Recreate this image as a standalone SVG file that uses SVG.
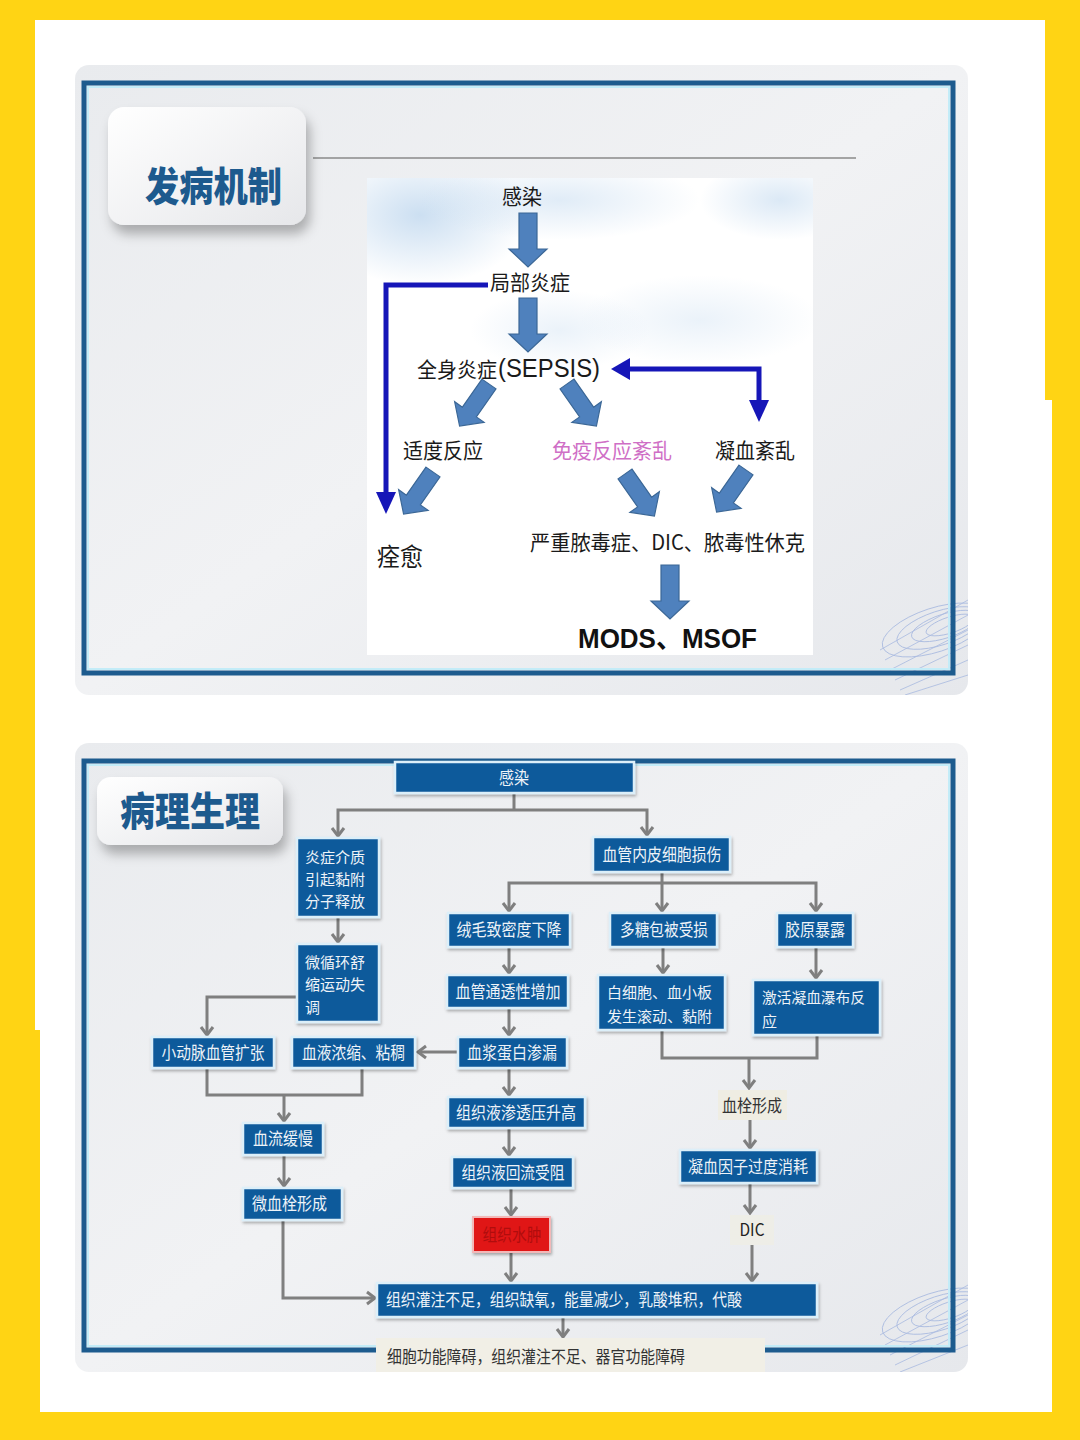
<svg xmlns="http://www.w3.org/2000/svg" width="1080" height="1440" viewBox="0 0 1080 1440">
<defs>
<style>
.box{fill:#105A9B;stroke:#DCEFF9;stroke-width:2.5;filter:url(#sh)}
.bt{font-family:"Noto Sans CJK SC","Noto Sans CJK JP",sans-serif;font-size:17px;fill:#EEF3F8}
.bt2{font-family:"Noto Sans CJK SC","Noto Sans CJK JP",sans-serif;font-size:15px;fill:#EEF3F8}
.lt{font-family:"Noto Sans CJK SC","Noto Sans CJK JP",sans-serif;font-size:17px;fill:#333333}
.con{fill:none;stroke:#7F7F7F;stroke-width:3}
.arr{marker-end:url(#chev)}
.fat{fill:#4F81BD;stroke:#3B6796;stroke-width:1.2}
.blu{fill:none;stroke:#1616B8;stroke-width:5}
.bh{fill:#1616B8}
.tt{font-family:"Noto Sans CJK SC","Noto Sans CJK JP",sans-serif;font-size:21px;fill:#1a1a1a}
.title{font-family:"Noto Sans CJK SC","Noto Sans CJK JP",sans-serif;font-size:40px;font-weight:900;fill:#1D5A8E}
.frame{fill:none;stroke:#1D5B8E;stroke-width:5}
.inner{fill:none;stroke:#C3ECF8;stroke-width:2}
.deco{fill:none;stroke:#8EA6DA;stroke-width:0.8;opacity:0.7}
</style>
<filter id="sh" x="-10%" y="-20%" width="130%" height="160%">
<feDropShadow dx="1" dy="2" stdDeviation="1.5" flood-color="#000" flood-opacity="0.3"/>
</filter>
<filter id="bsh" x="-20%" y="-30%" width="150%" height="180%">
<feDropShadow dx="4" dy="9" stdDeviation="6" flood-color="#000" flood-opacity="0.28"/>
</filter>
<linearGradient id="badge" x1="0" y1="0" x2="1" y2="1">
<stop offset="0" stop-color="#FFFFFF"/>
<stop offset="1" stop-color="#E6E7EA"/>
</linearGradient>
<linearGradient id="pg" x1="0" y1="0" x2="1" y2="1">
<stop offset="0" stop-color="#E9EBEE"/>
<stop offset="0.5" stop-color="#F1F2F4"/>
<stop offset="1" stop-color="#E6E8EC"/>
</linearGradient>
<radialGradient id="sky1" cx="0.5" cy="0.5" r="0.5">
<stop offset="0" stop-color="#BFD7EE" stop-opacity="0.8"/>
<stop offset="1" stop-color="#BFD7EE" stop-opacity="0"/>
</radialGradient>
<marker id="chev" markerUnits="userSpaceOnUse" markerWidth="14" markerHeight="16" refX="11" refY="8" orient="auto">
<path d="M3,2 L11,8 L3,14" fill="none" stroke="#7F7F7F" stroke-width="3"/>
</marker>
<path id="fa" d="M-9,0 H9 V36 H19 L0,54 L-19,36 H-9 Z"/>
<clipPath id="c1"><rect x="75" y="65" width="893" height="630" rx="14"/></clipPath>
<clipPath id="c2"><rect x="75" y="743" width="893" height="629" rx="14"/></clipPath>
<clipPath id="cimg"><rect x="367" y="178" width="446" height="477"/></clipPath>
</defs>

<!-- background -->
<rect x="0" y="0" width="1080" height="1440" fill="#FFD414"/>
<path d="M35,20 H1045 V400 H1052 V1412 H40 V1030 H35 Z" fill="#FFFFFF"/>

<!-- ===== Top panel ===== -->
<g id="panel-top">
<rect x="75" y="65" width="893" height="630" rx="14" fill="url(#pg)"/>
<g clip-path="url(#c1)">
<g class="deco">
<ellipse cx="935" cy="630" rx="55" ry="22" transform="rotate(-18 935 630)"/>
<ellipse cx="940" cy="628" rx="45" ry="17" transform="rotate(-18 940 628)"/>
<ellipse cx="945" cy="626" rx="35" ry="12" transform="rotate(-18 945 626)"/>
<ellipse cx="950" cy="625" rx="25" ry="8" transform="rotate(-18 950 625)"/>
<path d="M880,650 L968,600 M885,660 L968,615 M890,670 L968,630 M895,680 L968,645 M900,690 L968,660 M905,695 L968,675"/>
</g>
</g>
<rect x="84" y="83" width="869" height="590" class="frame"/>
<rect x="88" y="87" width="861" height="582" class="inner"/>
<line x1="313" y1="158" x2="856" y2="158" stroke="#8A8A8A" stroke-width="1.5"/>
</g>
<g id="title-top">
<rect x="108" y="107" width="198" height="118" rx="16" fill="url(#badge)" filter="url(#bsh)"/>
<text x="145" y="201" class="title" textLength="137" lengthAdjust="spacingAndGlyphs">发病机制</text>
</g>

<!-- image area -->
<g id="chart-bg">
<rect x="367" y="178" width="446" height="477" fill="#FFFFFF"/>
<g clip-path="url(#cimg)">
<ellipse cx="420" cy="215" rx="110" ry="70" fill="url(#sky1)"/>
<ellipse cx="560" cy="200" rx="140" ry="40" fill="url(#sky1)" opacity="0.6"/>
<ellipse cx="780" cy="200" rx="80" ry="40" fill="url(#sky1)" opacity="0.7"/>
<ellipse cx="700" cy="320" rx="120" ry="45" fill="url(#sky1)" opacity="0.4"/>
<ellipse cx="560" cy="330" rx="90" ry="40" fill="url(#sky1)" opacity="0.4"/>
</g>
</g>

<!-- top connectors -->
<g id="top-connectors">
<use href="#fa" class="fat" transform="translate(528,213)"/>
<use href="#fa" class="fat" transform="translate(528,298)"/>
<use href="#fa" class="fat" transform="translate(489,384) rotate(35) scale(0.95)"/>
<use href="#fa" class="fat" transform="translate(567,384) rotate(-35) scale(0.95)"/>
<use href="#fa" class="fat" transform="translate(433,472) rotate(35) scale(0.95)"/>
<use href="#fa" class="fat" transform="translate(625,474) rotate(-35) scale(0.95)"/>
<use href="#fa" class="fat" transform="translate(746,470) rotate(35) scale(0.95)"/>
<use href="#fa" class="fat" transform="translate(670,565)"/>
<path d="M488,285 H386 V495" class="blu"/>
<polygon points="376,492 396,492 386,514" class="bh"/>
<path d="M628,369 H759 V403" class="blu"/>
<polygon points="611,369 630,358 630,380" class="bh"/>
<polygon points="749,400 769,400 759,422" class="bh"/>
</g>

<!-- top nodes -->
<g id="t-infection"><text x="522" y="204" class="tt" text-anchor="middle" textLength="40" lengthAdjust="spacingAndGlyphs">感染</text></g>
<g id="t-local"><text x="530" y="290" class="tt" text-anchor="middle" textLength="80" lengthAdjust="spacingAndGlyphs">局部炎症</text></g>
<g id="t-sepsis">
<text x="417" y="377" class="tt" textLength="80" lengthAdjust="spacingAndGlyphs">全身炎症</text>
<text x="498" y="377" font-family="Liberation Sans, Arial, sans-serif" font-size="26" fill="#1a1a1a" textLength="102" lengthAdjust="spacingAndGlyphs">(SEPSIS)</text>
</g>
<g id="t-moderate"><text x="443" y="458" class="tt" text-anchor="middle" textLength="80" lengthAdjust="spacingAndGlyphs">适度反应</text></g>
<g id="t-immune"><text x="612" y="458" class="tt" style="fill:#CF6FC6" text-anchor="middle" textLength="120" lengthAdjust="spacingAndGlyphs">免疫反应紊乱</text></g>
<g id="t-coag"><text x="755" y="458" class="tt" text-anchor="middle" textLength="80" lengthAdjust="spacingAndGlyphs">凝血紊乱</text></g>
<g id="t-heal"><text x="400" y="566" class="tt" style="font-size:25px" text-anchor="middle" textLength="46" lengthAdjust="spacingAndGlyphs">痊愈</text></g>
<g id="t-severe"><text x="667.5" y="550" class="tt" text-anchor="middle" textLength="275" lengthAdjust="spacingAndGlyphs">严重脓毒症、DIC、脓毒性休克</text></g>
<g id="t-mods"><text x="578" y="648" font-family="Liberation Sans, Arial, 'Noto Sans CJK SC', sans-serif" font-size="27" font-weight="bold" fill="#111" textLength="179" lengthAdjust="spacingAndGlyphs">MODS、MSOF</text></g>

<!-- ===== Bottom panel ===== -->
<g id="panel-bottom">
<rect x="75" y="743" width="893" height="629" rx="14" fill="url(#pg)"/>
<g clip-path="url(#c2)">
<g class="deco">
<ellipse cx="935" cy="1315" rx="55" ry="22" transform="rotate(-18 935 1315)"/>
<ellipse cx="940" cy="1313" rx="45" ry="17" transform="rotate(-18 940 1313)"/>
<ellipse cx="945" cy="1311" rx="35" ry="12" transform="rotate(-18 945 1311)"/>
<ellipse cx="950" cy="1310" rx="25" ry="8" transform="rotate(-18 950 1310)"/>
<path d="M880,1335 L968,1285 M885,1345 L968,1300 M890,1355 L968,1315 M895,1365 L968,1330 M900,1372 L968,1345"/>
</g>
</g>
<rect x="84" y="761" width="869" height="589" class="frame"/>
<rect x="88" y="765" width="861" height="581" class="inner"/>
</g>
<g id="title-bottom">
<rect x="97" y="777" width="186" height="68" rx="14" fill="url(#badge)" filter="url(#bsh)"/>
<text x="120" y="826" class="title" textLength="140" lengthAdjust="spacingAndGlyphs">病理生理</text>
</g>

<!-- bottom connectors -->
<g id="connectors">
<path d="M514,793 V810" class="con"/>
<path d="M514,810 H338 V836" class="con arr"/>
<path d="M514,810 H647 V835" class="con arr"/>
<path d="M338,917 V942" class="con arr"/>
<path d="M297,997 H207 V1035" class="con arr"/>
<path d="M662,872 V883" class="con"/>
<path d="M662,883 V911" class="con arr"/>
<path d="M662,883 H509 V911" class="con arr"/>
<path d="M662,883 H816 V911" class="con arr"/>
<path d="M509,947 V973" class="con arr"/>
<path d="M663,947 V973" class="con arr"/>
<path d="M816,947 V978" class="con arr"/>
<path d="M509,1008 V1035" class="con arr"/>
<path d="M457,1052 H418" class="con arr"/>
<path d="M207,1068 V1095 H362 V1068" class="con"/>
<path d="M284,1095 V1121" class="con arr"/>
<path d="M284,1155 V1186" class="con arr"/>
<path d="M283,1220 V1298 H375" class="con arr"/>
<path d="M509,1068 V1095" class="con arr"/>
<path d="M509,1128 V1155" class="con arr"/>
<path d="M511,1188 V1215" class="con arr"/>
<path d="M511,1252 V1281" class="con arr"/>
<path d="M662,1030 V1058 H817 V1035" class="con"/>
<path d="M749,1058 V1088" class="con arr"/>
<path d="M750,1120 V1148" class="con arr"/>
<path d="M750,1183 V1213" class="con arr"/>
<path d="M752,1245 V1281" class="con arr"/>
<path d="M563,1317 V1337" class="con arr"/>
</g>

<!-- bottom nodes -->
<g id="b-infection"><rect x="395" y="762" width="239" height="31" class="box"/><text x="514" y="784" class="bt" text-anchor="middle" textLength="30" lengthAdjust="spacingAndGlyphs">感染</text></g>
<g id="b-mediator"><rect x="297" y="838" width="82" height="79" class="box"/>
<text x="305" y="863" class="bt2" textLength="60" lengthAdjust="spacingAndGlyphs">炎症介质</text>
<text x="305" y="885" class="bt2" textLength="60" lengthAdjust="spacingAndGlyphs">引起黏附</text>
<text x="305" y="907" class="bt2" textLength="60" lengthAdjust="spacingAndGlyphs">分子释放</text></g>
<g id="b-micro"><rect x="297" y="944" width="82" height="78" class="box"/>
<text x="305" y="968" class="bt2" textLength="60" lengthAdjust="spacingAndGlyphs">微循环舒</text>
<text x="305" y="990" class="bt2" textLength="60" lengthAdjust="spacingAndGlyphs">缩运动失</text>
<text x="305" y="1013" class="bt2" textLength="15" lengthAdjust="spacingAndGlyphs">调</text></g>
<g id="b-arteriole"><rect x="152" y="1037" width="122" height="31" class="box"/><text x="213" y="1059" class="bt" text-anchor="middle" textLength="103" lengthAdjust="spacingAndGlyphs">小动脉血管扩张</text></g>
<g id="b-conc"><rect x="292" y="1037" width="123" height="31" class="box"/><text x="353.5" y="1059" class="bt" text-anchor="middle" textLength="103" lengthAdjust="spacingAndGlyphs">血液浓缩、粘稠</text></g>
<g id="b-leak"><rect x="458" y="1037" width="109" height="31" class="box"/><text x="512" y="1059" class="bt" text-anchor="middle" textLength="90" lengthAdjust="spacingAndGlyphs">血浆蛋白渗漏</text></g>
<g id="b-slow"><rect x="243" y="1123" width="80" height="32" class="box"/><text x="283" y="1145" class="bt" text-anchor="middle" textLength="60" lengthAdjust="spacingAndGlyphs">血流缓慢</text></g>
<g id="b-microthrombus"><rect x="243" y="1188" width="99" height="32" class="box"/><text x="289.5" y="1210" class="bt" text-anchor="middle" textLength="75" lengthAdjust="spacingAndGlyphs">微血栓形成</text></g>
<g id="b-perfusion"><rect x="377" y="1283" width="440" height="34" class="box"/><text x="386" y="1306" class="bt" textLength="356" lengthAdjust="spacingAndGlyphs">组织灌注不足，组织缺氧，能量减少，乳酸堆积，代酸</text></g>
<g id="b-endo"><rect x="593" y="837" width="137" height="35" class="box"/><text x="662" y="861" class="bt" text-anchor="middle" textLength="119" lengthAdjust="spacingAndGlyphs">血管内皮细胞损伤</text></g>
<g id="b-villi"><rect x="448" y="913" width="122" height="34" class="box"/><text x="509" y="936" class="bt" text-anchor="middle" textLength="105" lengthAdjust="spacingAndGlyphs">绒毛致密度下降</text></g>
<g id="b-glyco"><rect x="610" y="913" width="107" height="34" class="box"/><text x="664" y="936" class="bt" text-anchor="middle" textLength="88" lengthAdjust="spacingAndGlyphs">多糖包被受损</text></g>
<g id="b-collagen"><rect x="777" y="913" width="76" height="34" class="box"/><text x="815" y="936" class="bt" text-anchor="middle" textLength="60" lengthAdjust="spacingAndGlyphs">胶原暴露</text></g>
<g id="b-perm"><rect x="447" y="975" width="121" height="33" class="box"/><text x="508" y="998" class="bt" text-anchor="middle" textLength="105" lengthAdjust="spacingAndGlyphs">血管通透性增加</text></g>
<g id="b-wbc"><rect x="598" y="975" width="127" height="55" class="box"/>
<text x="607" y="998" class="bt2" textLength="105" lengthAdjust="spacingAndGlyphs">白细胞、血小板</text>
<text x="607" y="1022" class="bt2" textLength="105" lengthAdjust="spacingAndGlyphs">发生滚动、黏附</text></g>
<g id="b-cascade"><rect x="753" y="980" width="127" height="55" class="box"/>
<text x="762" y="1003" class="bt2" textLength="103" lengthAdjust="spacingAndGlyphs">激活凝血瀑布反</text>
<text x="762" y="1027" class="bt2" textLength="15" lengthAdjust="spacingAndGlyphs">应</text></g>
<g id="b-osm"><rect x="448" y="1097" width="137" height="31" class="box"/><text x="516" y="1119" class="bt" text-anchor="middle" textLength="120" lengthAdjust="spacingAndGlyphs">组织液渗透压升高</text></g>
<g id="b-return"><rect x="452" y="1157" width="121" height="31" class="box"/><text x="513" y="1179" class="bt" text-anchor="middle" textLength="103" lengthAdjust="spacingAndGlyphs">组织液回流受阻</text></g>
<g id="b-edema"><rect x="473" y="1217" width="77" height="35" fill="#E01414" stroke="#F2B8B8" stroke-width="2" filter="url(#sh)"/><text x="512" y="1241" class="bt" style="fill:#B00D0D" text-anchor="middle" textLength="59" lengthAdjust="spacingAndGlyphs">组织水肿</text></g>
<g id="b-thrombus"><rect x="718" y="1090" width="69" height="30" fill="#EFEDE3"/><text x="752" y="1112" class="lt" text-anchor="middle" textLength="60" lengthAdjust="spacingAndGlyphs">血栓形成</text></g>
<g id="b-consume"><rect x="680" y="1150" width="137" height="33" class="box"/><text x="748" y="1173" class="bt" text-anchor="middle" textLength="120" lengthAdjust="spacingAndGlyphs">凝血因子过度消耗</text></g>
<g id="b-dic"><rect x="730" y="1215" width="44" height="30" fill="#EFEDE5" opacity="0.8"/><text x="752" y="1236" class="lt" style="fill:#222" text-anchor="middle" textLength="25" lengthAdjust="spacingAndGlyphs">DIC</text></g>
<g id="b-final"><rect x="376" y="1338" width="389" height="34" fill="#F1EFE6"/><text x="387" y="1363" class="lt" textLength="298" lengthAdjust="spacingAndGlyphs">细胞功能障碍，组织灌注不足、器官功能障碍</text></g>
</svg>
